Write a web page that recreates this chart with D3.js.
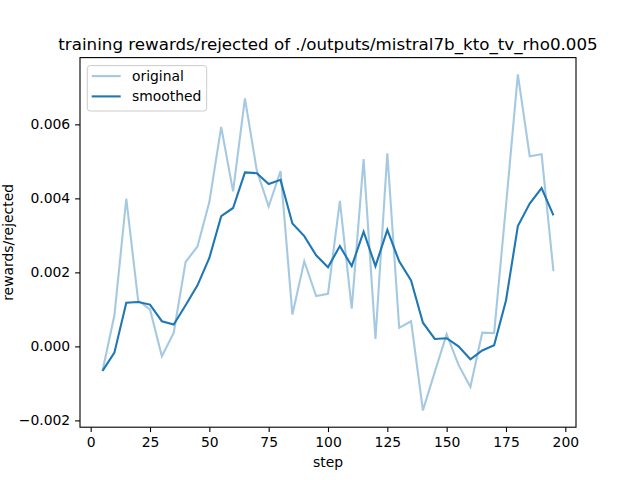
<!DOCTYPE html>
<html>
<head>
<meta charset="utf-8">
<script src="https://cdn.jsdelivr.net/npm/d3@7"></script>
<style>
  body { margin: 0; background: #fff; }
  text { font-family: "DejaVu Sans", sans-serif; }
</style>
</head>
<body>
<div id="chart"></div>
<script>
// data
var steps = [5, 10, 15, 20, 25, 30, 35, 40, 45, 50, 55, 60, 65, 70, 75, 80, 85, 90, 95, 100,
             105, 110, 115, 120, 125, 130, 135, 140, 145, 150, 155, 160, 165, 170, 175, 180, 185, 190, 195];
var original = [-0.00066, 0.00084, 0.00399, 0.00124, 0.00100, -0.00027, 0.00037, 0.00228, 0.00270, 0.00390,
                0.00593, 0.00419, 0.00670, 0.00475, 0.00378, 0.00474, 0.00086, 0.00230, 0.00136, 0.00142,
                0.00393, 0.00102, 0.00506, 0.00020, 0.00522, 0.00050, 0.00068, -0.00173, -0.00069, 0.00033,
                -0.00050, -0.00110, 0.00037, 0.00036, 0.00380, 0.00735, 0.00514, 0.00519, 0.00203];
var smoothed = [-0.00066, -0.00017, 0.00118, 0.00120, 0.00113, 0.00068, 0.00059, 0.00111, 0.00165, 0.00239,
                0.00352, 0.00374, 0.00470, 0.00468, 0.00439, 0.00450, 0.00332, 0.00298, 0.00246, 0.00214,
                0.00271, 0.00217, 0.00310, 0.00217, 0.00315, 0.00230, 0.00178, 0.00064, 0.00020, 0.00022,
                0.00000, -0.00035, -0.00011, 0.00003, 0.00124, 0.00325, 0.00386, 0.00428, 0.00354];
var xTicks = [0, 25, 50, 75, 100, 125, 150, 175, 200];
var yTicks = [-0.002, 0, 0.002, 0.004, 0.006];

var width = 640, height = 480;
var margin = {top: 57.6, right: 64, bottom: 52.8, left: 80};
var w = width - margin.left - margin.right,
    h = height - margin.top - margin.bottom;

var svg = d3.select("#chart")
    .append("svg")
    .attr("width", width)
    .attr("height", height);

var g = svg.append("g")
    .attr("transform", "translate(" + margin.left + "," + margin.top + ")");

// matplotlib style 5% padding
var xPad = (d3.max(steps) - d3.min(steps)) * 0.05;
var yAll = original.concat(smoothed);
var yPad = (d3.max(yAll) - d3.min(yAll)) * 0.05;

var x = d3.scaleLinear()
    .domain([d3.min(steps) - xPad, d3.max(steps) + xPad])
    .range([0, w]);
var y = d3.scaleLinear()
    .domain([d3.min(yAll) - yPad, d3.max(yAll) + yPad])
    .range([h, 0]);

var fmt = function (d) { return d3.format(".3f")(d).replace("-", "\u2212"); };

var xAxis = g.append("g")
    .attr("transform", "translate(0," + h + ")")
    .call(d3.axisBottom(x).tickValues(xTicks).tickSize(4.9).tickPadding(4.9).tickFormat(d3.format("d")));
var yAxis = g.append("g")
    .call(d3.axisLeft(y).tickValues(yTicks).tickSize(4.9).tickPadding(4.9).tickFormat(fmt));

[xAxis, yAxis].forEach(function (a) {
    a.select(".domain").remove();
    a.selectAll("line").attr("stroke", "#000").attr("stroke-width", 1.1);
    a.selectAll("text").attr("font-size", "13.9px").attr("fill", "#000")
        .style("font-family", "'DejaVu Sans', sans-serif");
});

var line = d3.line()
    .x(function (d, i) { return x(steps[i]); })
    .y(function (d) { return y(d); });

g.append("path")
    .datum(original)
    .attr("d", line)
    .attr("fill", "none")
    .attr("stroke", "#1f77b4")
    .attr("stroke-opacity", 0.4)
    .attr("stroke-width", 2.1);

g.append("path")
    .datum(smoothed)
    .attr("d", line)
    .attr("fill", "none")
    .attr("stroke", "#1f77b4")
    .attr("stroke-width", 2.1);

// frame
g.append("rect")
    .attr("width", w)
    .attr("height", h)
    .attr("fill", "none")
    .attr("stroke", "#000")
    .attr("stroke-width", 1.1);

// title and labels
svg.append("text")
    .attr("x", margin.left + w / 2)
    .attr("y", margin.top - 8)
    .attr("text-anchor", "middle")
    .attr("font-size", "16.7px")
    .text("training rewards/rejected of ./outputs/mistral7b_kto_tv_rho0.005");

svg.append("text")
    .attr("x", margin.left + w / 2)
    .attr("y", 467)
    .attr("text-anchor", "middle")
    .attr("font-size", "13.9px")
    .text("step");

svg.append("text")
    .attr("transform", "translate(12.5," + (margin.top + h / 2) + ") rotate(-90)")
    .attr("text-anchor", "middle")
    .attr("font-size", "13.9px")
    .text("rewards/rejected");

// legend
var legend = g.append("g").attr("transform", "translate(7.3,8)");
legend.append("rect")
    .attr("width", 119.4)
    .attr("height", 45.4)
    .attr("rx", 2.8)
    .attr("fill", "#fff")
    .attr("fill-opacity", 0.8)
    .attr("stroke", "#ccc")
    .attr("stroke-width", 1);

var items = [
    {name: "original", opacity: 0.4},
    {name: "smoothed", opacity: 1}
];
items.forEach(function (d, i) {
    var yy = 10.5 + i * 20.3;
    legend.append("line")
        .attr("x1", 4.4).attr("x2", 33.4)
        .attr("y1", yy).attr("y2", yy)
        .attr("stroke", "#1f77b4")
        .attr("stroke-opacity", d.opacity)
        .attr("stroke-width", 2.1);
    legend.append("text")
        .attr("x", 44.7)
        .attr("y", yy + 5)
        .attr("font-size", "13.9px")
        .text(d.name);
});
</script>
</body>
</html>
